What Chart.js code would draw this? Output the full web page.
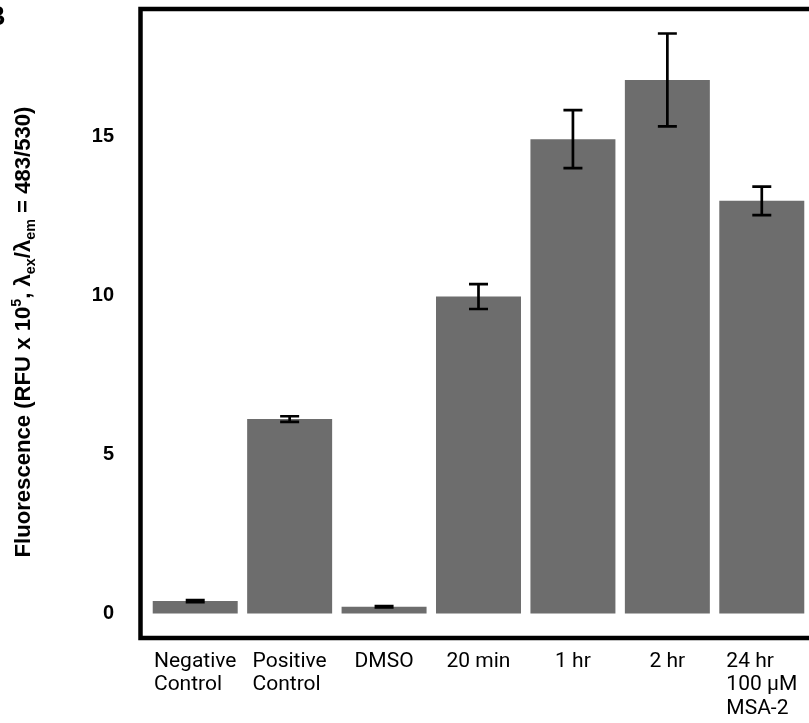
<!DOCTYPE html>
<html>
<head>
<meta charset="utf-8">
<script src="https://cdn.jsdelivr.net/npm/chart.js@4.4.1/dist/chart.umd.min.js"></script>
<style>
  body { margin: 0; background: #fff; }
  canvas { display: block; }
</style>
</head>
<body>
<canvas id="myChart" width="809" height="723"></canvas>
<script>
// ------------- data ----------------
const categories = [
  ["Negative", "Control"],
  ["Positive", "Control"],
  ["DMSO"],
  ["20 min"],
  ["1 hr"],
  ["2 hr"],
  ["24 hr", "100 µM", "MSA-2"],
];
const values = [0.39, 6.11, 0.21, 9.96, 14.91, 16.77, 12.97];
const errors = [0.03, 0.09, 0.02, 0.39, 0.91, 1.46, 0.45];
const yTicks = [0, 5, 10, 15];

const SANS = "Arial, 'Liberation Sans', sans-serif";

// error bars on top of each bar
const errorBars = {
  id: "errorBars",
  afterDatasetsDraw(chart) {
    const ctx = chart.ctx;
    const y = chart.scales.y;
    const meta = chart.getDatasetMeta(0);
    ctx.save();
    ctx.strokeStyle = "#000";
    ctx.lineWidth = 2.7;
    meta.data.forEach((bar, i) => {
      const top = y.getPixelForValue(values[i] + errors[i]);
      const bot = y.getPixelForValue(values[i] - errors[i]);
      ctx.beginPath();
      ctx.moveTo(bar.x, top);
      ctx.lineTo(bar.x, bot);
      ctx.moveTo(bar.x - 9.5, top);
      ctx.lineTo(bar.x + 9.5, top);
      ctx.moveTo(bar.x - 9.5, bot);
      ctx.lineTo(bar.x + 9.5, bot);
      ctx.stroke();
    });
    ctx.restore();
  },
};

// frame, x labels, y title, panel letter
const decorations = {
  id: "decorations",
  afterDraw(chart) {
    const ctx = chart.ctx;
    const area = chart.chartArea;
    const x = chart.scales.x;
    ctx.save();

    // box (open on the right, cut by the page edge)
    ctx.strokeStyle = "#000";
    ctx.lineWidth = 4.5;
    ctx.beginPath();
    ctx.moveTo(area.right + 10, area.top);
    ctx.lineTo(area.left - 7.5, area.top);
    ctx.lineTo(area.left - 7.5, area.bottom);
    ctx.lineTo(area.right + 10, area.bottom);
    ctx.stroke();

    // category labels, lines left-aligned in a centred block
    ctx.fillStyle = "#000";
    ctx.font = "21px Roboto";
    ctx.textAlign = "left";
    ctx.textBaseline = "alphabetic";
    categories.forEach((lines, i) => {
      const cx = x.getPixelForTick(i);
      const w = Math.max(...lines.map((l) => ctx.measureText(l).width));
      lines.forEach((l, j) => {
        ctx.fillText(l, cx - w / 2, 667 + j * 23.4);
      });
    });

    // y axis title with super/subscripts, sized to its length in the figure
    const parts = [
      { t: "Fluorescence (RFU x 10", k: 1, dy: 0 },
      { t: "5", k: 0.65, dy: -0.4 },
      { t: ", λ", k: 1, dy: 0 },
      { t: "ex", k: 0.65, dy: 0.22 },
      { t: "/λ", k: 1, dy: 0 },
      { t: "em", k: 0.65, dy: 0.22 },
      { t: " = 483/530)", k: 1, dy: 0 },
    ];
    const measure = (size) => {
      let total = 0;
      parts.forEach((p) => {
        ctx.font = "bold " + size * p.k + "px " + SANS;
        p.w = ctx.measureText(p.t).width;
        total += p.w;
      });
      return total;
    };
    const size = (18 * 451) / measure(18);
    const total = measure(size);
    ctx.translate(30, 332);
    ctx.rotate(-Math.PI / 2);
    ctx.fillStyle = "#000";
    let pos = -total / 2;
    parts.forEach((p) => {
      ctx.font = "bold " + size * p.k + "px " + SANS;
      ctx.fillText(p.t, pos, p.dy * size);
      pos += p.w;
    });
    ctx.setTransform(1, 0, 0, 1, 0, 0);

    // panel letter, cut by the page edge
    ctx.font = "bold 27px " + SANS;
    ctx.textAlign = "right";
    ctx.fillText("B", 5.5, 24.5);
    ctx.restore();
  },
};

document.addEventListener("DOMContentLoaded", () => {
  const ctx = document.getElementById("myChart");
  new Chart(ctx, {
    type: "bar",
    data: {
      labels: categories,
      datasets: [
        {
          data: values,
          backgroundColor: "#6d6d6d",
          borderWidth: 0,
          categoryPercentage: 1,
          barPercentage: 0.9,
        },
      ],
    },
    options: {
      responsive: false,
      animation: false,
      events: [],
      layout: { padding: { top: 9, left: 0, right: 0, bottom: 0 } },
      plugins: {
        legend: { display: false },
        tooltip: { enabled: false },
      },
      scales: {
        x: {
          grid: { display: false, drawTicks: false },
          border: { display: false },
          ticks: { display: false },
          afterFit: (scale) => {
            scale.height = 85;
            scale.paddingLeft = 0;
            scale.paddingRight = 0;
          },
        },
        y: {
          min: -0.77,
          max: 19.0,
          grid: { display: false, drawTicks: false },
          border: { display: false },
          afterBuildTicks: (scale) => {
            scale.ticks = yTicks.map((v) => ({ value: v }));
          },
          ticks: {
            color: "#000",
            padding: 34,
            font: { family: SANS, size: 20, weight: "bold" },
          },
          afterFit: (scale) => {
            scale.width = 148;
            scale.paddingTop = 0;
            scale.paddingBottom = 0;
          },
        },
      },
    },
    plugins: [errorBars, decorations],
  });
});
</script>
</body>
</html>
